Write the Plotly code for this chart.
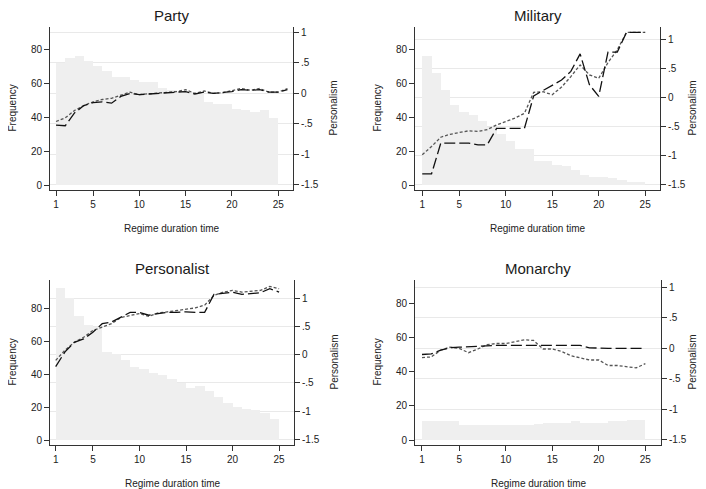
import plotly.graph_objects as go

# ---------------- data ----------------
bin_left = list(range(1, 25))          # histogram bins [k, k+1]
dur_party = list(range(1, 27))
dur = list(range(1, 26))

party_freq = [72, 75, 76, 73, 70, 67, 64, 64, 62, 61, 61, 57, 56, 55, 55, 54, 49, 48, 48, 45, 44, 43, 44, 39.5]
military_freq = [76, 66, 56, 47, 43, 41, 38, 34, 30, 26, 21, 21, 14, 14, 12, 11, 9, 6, 5, 5, 4, 3, 2, 2]
personalist_freq = [92.5, 86, 75.5, 70, 68.5, 53.5, 52.5, 48.5, 44.5, 43, 41, 39.5, 37, 34.5, 31.5, 33, 29.5, 26, 22.5, 19.8, 18.8, 18, 16.5, 13]
monarchy_freq = [11, 11, 11, 11, 9, 9, 9, 9, 9, 9, 9, 9, 9.5, 10, 10, 10, 11, 10, 10, 10, 11, 11, 11.5, 11.5]

party_a = [-0.52, -0.53, -0.32, -0.2, -0.15, -0.14, -0.16, -0.05, 0.0, -0.02, -0.01, 0.0, 0.0, 0.01, 0.03, -0.01, 0.02, 0.0, 0.01, 0.03, 0.06, 0.05, 0.06, 0.02, 0.02, 0.06]
party_b = [-0.46, -0.4, -0.28, -0.2, -0.14, -0.1, -0.08, -0.03, 0.02, -0.02, -0.01, 0.0, 0.01, 0.03, 0.06, 0.0, 0.04, 0.0, 0.01, 0.04, 0.08, 0.05, 0.08, 0.02, 0.02, 0.08]

military_a = [-1.31, -1.31, -0.78, -0.78, -0.78, -0.78, -0.81, -0.81, -0.53, -0.53, -0.53, -0.53, 0.03, 0.12, 0.22, 0.3, 0.45, 0.75, 0.22, 0.02, 0.78, 0.78, 1.12, 1.12, 1.12]
military_b = [-0.98, -0.84, -0.68, -0.63, -0.6, -0.57, -0.58, -0.55, -0.47, -0.41, -0.35, -0.27, 0.09, 0.1, 0.05, 0.18, 0.36, 0.56, 0.39, 0.33, 0.6, 0.82, 1.12, 1.12, 1.12]

personalist_a = [-0.21, 0.05, 0.22, 0.28, 0.4, 0.55, 0.58, 0.67, 0.75, 0.75, 0.7, 0.73, 0.75, 0.75, 0.76, 0.75, 0.75, 1.07, 1.09, 1.11, 1.07, 1.09, 1.1, 1.17, 1.11]
personalist_b = [-0.1, 0.08, 0.22, 0.31, 0.43, 0.49, 0.55, 0.66, 0.7, 0.73, 0.68, 0.74, 0.76, 0.78, 0.8, 0.83, 0.88, 1.05, 1.11, 1.14, 1.11, 1.13, 1.14, 1.21, 1.17]

monarchy_a = [-0.1, -0.09, -0.03, 0.01, 0.02, 0.03, 0.04, 0.05, 0.05, 0.05, 0.05, 0.05, 0.05, 0.05, 0.05, 0.05, 0.05, 0.05, 0.01, 0.0, 0.0, 0.0, 0.0, 0.0, 0.0]
monarchy_b = [-0.15, -0.14, -0.03, 0.02, 0.0, -0.07, -0.01, 0.06, 0.08, 0.08, 0.11, 0.14, 0.13, -0.01, -0.01, -0.05, -0.12, -0.16, -0.19, -0.19, -0.28, -0.28, -0.3, -0.32, -0.25]

titles = ["Party", "Military", "Personalist", "Monarchy"]
freq_ticks = [0, 20, 40, 60, 80]
pers_ticks = [-1.5, -1, -0.5, 0, 0.5, 1]
pers_labels = ["-1.5", "-1", "-.5", "0", ".5", "1"]
x_ticks = [1, 5, 10, 15, 20, 25]

# ---------------- layout geometry (pixels, page coords) ----------------
OFF = 8                      # default page body margin
W, H = 706 - OFF, 489 - OFF
panels = [
    dict(freq=party_freq, x=dur_party, a=party_a, b=party_b,
         px=(50, 293), py=(27, 190), xr=(0.35, 26.6), yr=(-2.95, 93.2), y2r=(-1.582, 1.087)),
    dict(freq=military_freq, x=dur, a=military_a, b=military_b,
         px=(415, 660), py=(27, 190), xr=(0.22, 26.6), yr=(-2.95, 93.2), y2r=(-1.586, 1.211)),
    dict(freq=personalist_freq, x=dur, a=personalist_a, b=personalist_b,
         px=(50, 294), py=(280, 445), xr=(0.39, 26.6), yr=(-3.0, 97.2), y2r=(-1.601, 1.325)),
    dict(freq=monarchy_freq, x=dur, a=monarchy_a, b=monarchy_b,
         px=(415, 661), py=(280, 445), xr=(0.25, 26.68), yr=(-2.9, 93.7), y2r=(-1.582, 1.12)),
]


def fx(px):
    return (px - OFF) / W


def fy(py):
    return 1 - (py - OFF) / H


FONT = "Liberation Sans, Arial, sans-serif"
AX = "#333333"
fig = go.Figure()
layout = dict(
    width=W, height=H, margin=dict(l=0, r=0, t=0, b=0, autoexpand=False),
    paper_bgcolor="white", plot_bgcolor="white", showlegend=False,
    bargap=0, font=dict(family=FONT, size=10, color="#222222"),
)
annotations = []

for i, p in enumerate(panels):
    xn = i + 1
    yl = 2 * i + 1
    yr_ = 2 * i + 2
    xs = "x" if xn == 1 else f"x{xn}"
    yls = "y" if yl == 1 else f"y{yl}"
    yrs = f"y{yr_}"
    centers = [b + 0.5 for b in bin_left]
    fig.add_trace(go.Bar(x=centers, y=p["freq"], width=1.0, xaxis=xs, yaxis=yls,
                         marker=dict(color="#efefef", line=dict(width=0)), hoverinfo="skip"))
    fig.add_trace(go.Scatter(x=p["x"], y=p["b"], mode="lines", xaxis=xs, yaxis=yrs,
                             line=dict(color="#555555", width=1.3, dash="3px,2px")))
    fig.add_trace(go.Scatter(x=p["x"], y=p["a"], mode="lines", xaxis=xs, yaxis=yrs,
                             line=dict(color="#111111", width=1.3, dash="11px,4px")))

    xd = [fx(p["px"][0]), fx(p["px"][1])]
    yd = [fy(p["py"][1]), fy(p["py"][0])]
    layout["xaxis" if xn == 1 else f"xaxis{xn}"] = dict(
        domain=xd, range=list(p["xr"]), anchor=yls, showgrid=False, zeroline=False,
        showline=True, linecolor=AX, linewidth=1, ticks="outside", ticklen=5,
        tickcolor=AX, tickvals=x_ticks, tickfont=dict(size=10, color="#222"))
    layout["yaxis" if yl == 1 else f"yaxis{yl}"] = dict(
        domain=yd, range=list(p["yr"]), anchor=xs, showgrid=False, zeroline=False,
        showline=True, linecolor=AX, linewidth=1, ticks="outside", ticklen=5,
        tickcolor=AX, tickvals=freq_ticks, tickfont=dict(size=10, color="#222"))
    layout[f"yaxis{yr_}"] = dict(
        overlaying=yls, side="right", anchor=xs, range=list(p["y2r"]),
        showgrid=True, gridcolor="#e9e9e9", gridwidth=1, zeroline=False,
        showline=True, linecolor=AX, linewidth=1, ticks="outside", ticklen=5,
        tickcolor=AX, tickvals=pers_ticks, ticktext=pers_labels,
        tickfont=dict(size=10, color="#222"))

    cx = fx((p["px"][0] + p["px"][1]) / 2)
    top = p["py"][0]
    bot = p["py"][1]
    midy = fy((top + bot) / 2)
    annotations.append(dict(text=titles[i], x=cx, y=fy(top - 12), xref="paper", yref="paper",
                            showarrow=False, font=dict(size=15, color="#1a1a1a"),
                            xanchor="center", yanchor="middle"))
    annotations.append(dict(text="Regime duration time", x=cx, y=fy(bot + 38),
                            xref="paper", yref="paper", showarrow=False,
                            font=dict(size=10, color="#222"), xanchor="center", yanchor="middle"))
    annotations.append(dict(text="Frequency", x=fx(p["px"][0] - 38), y=midy, xref="paper",
                            yref="paper", showarrow=False, textangle=-90,
                            font=dict(size=10, color="#222"), xanchor="center", yanchor="middle"))
    annotations.append(dict(text="Personalism", x=fx(min(p["px"][1] + 40, 692)), y=midy,
                            xref="paper", yref="paper", showarrow=False, textangle=-90,
                            font=dict(size=10, color="#222"), xanchor="center", yanchor="middle"))

layout["annotations"] = annotations
fig.update_layout(**layout)
fig.write_html("out.html")
